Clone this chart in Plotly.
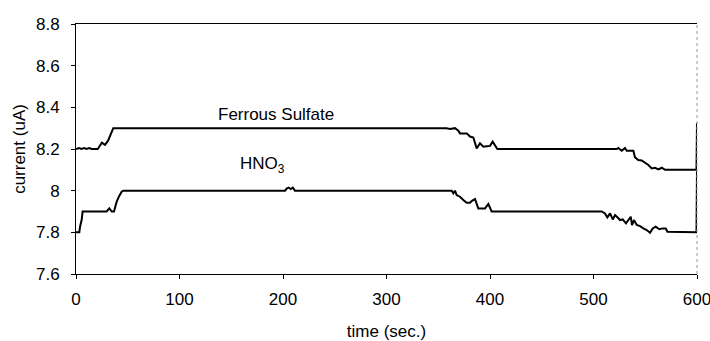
import plotly.graph_objects as go

# Ferrous Sulfate series
fs_time = [0, 3, 5, 8, 10, 13, 15, 18, 21, 25, 28, 31, 34.5, 36, 42.5,
           358, 361.4, 366.2, 369.4, 371, 377.5, 380.7, 383.9, 385.5, 387.1,
           390.3, 393.6, 396.8, 400, 402.6, 404.8, 407.1,
           522.4, 524, 527.3, 530.4, 532.1, 538.5, 540.1, 543.3, 546.6, 549.8,
           553, 556.3, 559.4, 562.7, 566, 569.1, 572.3, 599.5, 600]
fs_current = [8.2, 8.205, 8.2, 8.205, 8.2, 8.205, 8.2, 8.2, 8.2, 8.23, 8.22, 8.24, 8.28, 8.3, 8.3,
              8.3, 8.296, 8.3, 8.288, 8.275, 8.275, 8.26, 8.255, 8.227, 8.203,
              8.227, 8.211, 8.213, 8.215, 8.235, 8.215, 8.2,
              8.2, 8.205, 8.192, 8.205, 8.192, 8.192, 8.16, 8.147, 8.145, 8.134,
              8.123, 8.107, 8.11, 8.102, 8.11, 8.1, 8.1, 8.1, 8.325]

# HNO3 series
hno_time = [0, 3.2, 3.9, 5.5, 6.4, 7.1, 29.6, 32.2, 34.5, 36.7, 39.3, 41.8, 44.1, 45.7,
            202, 203.5, 205.5, 207.5, 209.5, 211.5,
            363, 364.6, 366.2, 367.8, 371, 374.2, 377.5, 380.7, 382.3, 385.5, 388.7,
            392, 395.2, 398.4, 400, 401.6,
            507.9, 511.1, 513.4, 516, 518.6, 520.8, 523.1, 525.6, 528.2, 531.4, 533.7,
            536, 537.2, 539.1, 541.8, 545, 548.2, 551.4, 554.6, 557.2, 560.1, 563.6,
            566.9, 569.8, 571.4, 599.5, 600]
hno_current = [7.8, 7.8, 7.827, 7.86, 7.9, 7.9, 7.9, 7.915, 7.9, 7.9, 7.947, 7.975, 7.995, 8.0,
               8.0, 8.01, 8.015, 8.008, 8.015, 8.0,
               8.0, 7.987, 8.0, 7.979, 7.971, 7.955, 7.942, 7.942, 7.95, 7.96, 7.915,
               7.915, 7.915, 7.936, 7.915, 7.9,
               7.9, 7.891, 7.872, 7.891, 7.862, 7.883, 7.872, 7.859, 7.862, 7.843, 7.859,
               7.875, 7.835, 7.859, 7.835, 7.83, 7.819, 7.811, 7.798, 7.819, 7.827, 7.815,
               7.819, 7.819, 7.803, 7.8, 8.1]

x_ticks = [0, 100, 200, 300, 400, 500, 600]
y_ticks = [7.6, 7.8, 8.0, 8.2, 8.4, 8.6, 8.8]
y_tick_text = ["7.6", "7.8", "8", "8.2", "8.4", "8.6", "8.8"]

labels = ["Ferrous Sulfate", "HNO<sub>3</sub>"]
label_x = [193, 180]
label_y = [8.368, 8.123]

FONT = "Liberation Sans, Arial, sans-serif"

fig = go.Figure()
fig.add_trace(go.Scatter(x=fs_time, y=fs_current, mode="lines",
                         line=dict(color="black", width=2), name="Ferrous Sulfate"))
fig.add_trace(go.Scatter(x=hno_time, y=hno_current, mode="lines",
                         line=dict(color="black", width=2), name="HNO3"))

for t, xv, yv in zip(labels, label_x, label_y):
    fig.add_annotation(x=xv, y=yv, xref="x", yref="y", text=t, showarrow=False,
                       font=dict(family=FONT, size=17, color="black"))

fig.add_shape(type="line", xref="paper", yref="paper", x0=1, x1=1, y0=0, y1=1,
              line=dict(color="#999999", width=1, dash="dot"))

fig.update_layout(
    width=710, height=341,
    margin=dict(l=76, r=13, t=24, b=67, autoexpand=False),
    paper_bgcolor="white", plot_bgcolor="white",
    showlegend=False,
    font=dict(family=FONT, size=17, color="black"),
    xaxis=dict(range=[0, 600], tickvals=x_ticks, showgrid=False, zeroline=False,
               showline=True, linecolor="black", linewidth=1, mirror=True,
               ticks="outside", ticklen=4, tickcolor="black",
               ticklabeloverflow="allow", automargin=False, ticklabelstandoff=6,
               title=dict(text="time (sec.)", font=dict(size=17), standoff=18)),
    yaxis=dict(range=[7.6, 8.8], tickvals=y_ticks, ticktext=y_tick_text,
               showgrid=False, zeroline=False,
               showline=True, linecolor="black", linewidth=1,
               ticks="outside", ticklen=4, tickcolor="black", ticklabelstandoff=8,
               title=dict(text="current (uA)", font=dict(size=17), standoff=6)),
)

fig.write_html("out.html")
